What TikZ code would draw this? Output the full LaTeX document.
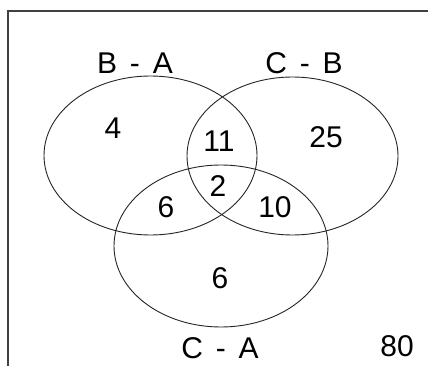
\documentclass[tikz,border=0pt]{standalone}
\usepackage{fontspec}
\setmainfont{Liberation Sans}
\newcommand{\gap}{\hspace{0.43em}}
\begin{document}
\begin{tikzpicture}[x=1pt,y=-1pt,
  setline/.style={line width=0.9pt,black!85},
  framing/.style={line width=1.4pt,black!75},
  lbl/.style={font=\fontsize{30}{33}\selectfont,inner sep=0pt,anchor=center}]
\useasboundingbox (0,0) rectangle (428,366);
\fill[white] (0,0) rectangle (428,366);
% frame: left and top edges
\draw[framing] (8,366) -- (8,11) -- (428,11);
% the three sets
\draw[setline] (150.5,155.5) ellipse [x radius=106.5, y radius=79.5];
\draw[setline] (292.5,156) ellipse [x radius=105.5, y radius=79];
\draw[setline] (221,246) ellipse [x radius=107, y radius=81];
% set names
\node[lbl] (nBA) at (135,63) {B\gap-\gap A};
\node[lbl] (nCB) at (304,63) {C\gap-\gap B};
\node[lbl] (nCA) at (220,348) {C\gap-\gap A};
% region counts
\node[lbl] (r4)  at (113,128) {4};
\node[lbl] (r11) at (219,141) {11};
\node[lbl] (r25) at (326,137) {25};
\node[lbl] (r6a) at (166,207) {6};
\node[lbl] (r2)  at (218,186) {2};
\node[lbl] (r10) at (275,207) {10};
\node[lbl] (r6b) at (220,278) {6};
\node[lbl] (r80) at (397,346) {80};
\end{tikzpicture}
\end{document}
